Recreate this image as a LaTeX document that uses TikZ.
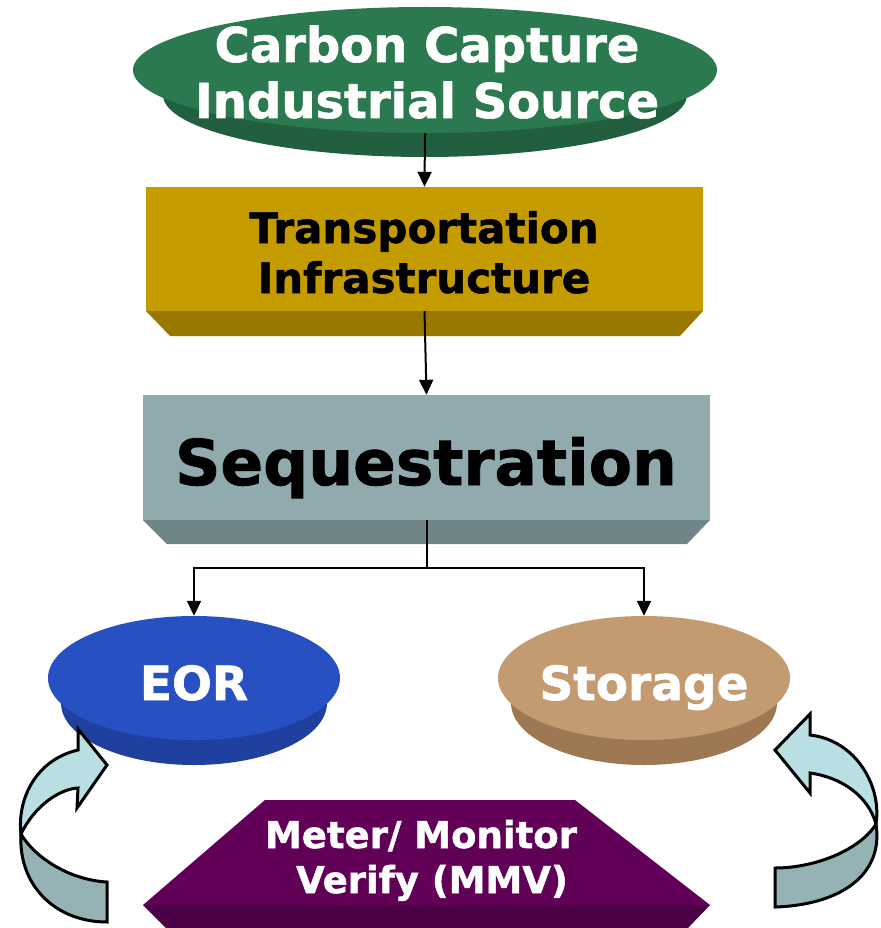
\documentclass[tikz,border=0pt]{standalone}
\usepackage{fontspec}
\setmainfont{DejaVu Sans}[BoldFeatures={FakeBold=1.3}]
\usetikzlibrary{arrows.meta,shapes.geometric,backgrounds}
\definecolor{greenface}{HTML}{2B7A4F}
\definecolor{greenside}{HTML}{225F3F}
\definecolor{goldface}{HTML}{C59C00}
\definecolor{goldside}{HTML}{997800}
\definecolor{seqface}{HTML}{90AAAD}
\definecolor{seqside}{HTML}{6F8587}
\definecolor{eorface}{HTML}{2750C2}
\definecolor{eorside}{HTML}{1F409E}
\definecolor{storface}{HTML}{C49A70}
\definecolor{storside}{HTML}{9E7853}
\definecolor{mmvface}{HTML}{620058}
\definecolor{mmvside}{HTML}{4A0044}
\definecolor{arrlight}{HTML}{B9DFE2}
\definecolor{arrdark}{HTML}{95B3B5}
\tikzset{
  boxnode/.style={rectangle, draw=none, inner sep=0},
  disknode/.style={ellipse, draw=none, inner sep=0},
  wtxt/.style={text=white, anchor=base, inner sep=0},
  btxt/.style={text=black, anchor=base, inner sep=0},
  conn/.style={line width=2pt, -{Triangle[length=15pt,width=14pt]}},
  curlarrow/.style={draw=black, line width=3pt, line join=miter}
}
\begin{document}
\begin{tikzpicture}[x=1pt,y=-1pt]
\useasboundingbox (0,0) rectangle (880,928);
% sides / bevels
\fill[greenside] (425,95) ellipse[x radius=262, y radius=62];
\fill[greenside] (133,70) -- (717,70) -- (687,95) -- (163,95) -- cycle;
\fill[goldside] (146,311) -- (703,311) -- (680,336) -- (170,336) -- cycle;
\fill[seqside] (143,520) -- (710,520) -- (687,544) -- (167,544) -- cycle;
\fill[eorside] (194,703) ellipse[x radius=133, y radius=62];
\fill[eorside] (48,678) -- (340,678) -- (327,703) -- (61,703) -- cycle;
\fill[storside] (644,703) ellipse[x radius=133, y radius=62];
\fill[storside] (498,678) -- (790,678) -- (777,703) -- (511,703) -- cycle;
\fill[mmvside] (143,905) -- (710,905) -- (688,928) -- (166,928) -- cycle;
% faces
\node[disknode, fill=greenface, minimum width=584, minimum height=126] (src) at (425,70) {};
\node[boxnode, fill=goldface, minimum width=557, minimum height=124] (trans) at (424.5,249) {};
\node[boxnode, fill=seqface, minimum width=567, minimum height=125] (seq) at (426.5,457.5) {};
\node[disknode, fill=eorface, minimum width=292, minimum height=124] (eor) at (194,678) {};
\node[disknode, fill=storface, minimum width=292, minimum height=124] (stor) at (644,678) {};
\fill[mmvface] (265,800) -- (575,800) -- (710,905) -- (143,905) -- cycle;
% texts
\node[wtxt, font=\bfseries\fontsize{48}{48}\selectfont] (src1) at (427,62) {Carbon Capture};
\node[wtxt, font=\bfseries\fontsize{48}{48}\selectfont] (src2) at (427,118) {Industrial Source};
\node[btxt, font=\bfseries\fontsize{42}{42}\selectfont] (trans1) at (424,243) {Transportation};
\node[btxt, font=\bfseries\fontsize{42}{42}\selectfont] (trans2) at (424,293) {Infrastructure};
\node[btxt, font=\bfseries\fontsize{63}{63}\selectfont] (seq1) at (426,485) {Sequestration};
\node[wtxt, font=\bfseries\fontsize{47}{47}\selectfont] (eor1) at (194,700) {EOR};
\node[wtxt, font=\bfseries\fontsize{47}{47}\selectfont] (stor1) at (644,700) {Storage};
\node[wtxt, font=\bfseries\fontsize{37}{37}\selectfont] (mmv1) at (421,848) {Meter/ Monitor};
\node[wtxt, font=\bfseries\fontsize{37}{37}\selectfont] (mmv2) at (432,893) {Verify (MMV)};
% connectors
\draw[conn] (src.south) -- (trans.north);
\draw[conn] (trans.south) -- (seq.north);
\coordinate (split) at ([yshift=-48pt]seq.south);
\draw[line width=2pt] (seq.south) -- (split);
\draw[conn] (split) -| (eor.north);
\draw[conn] (split) -| (stor.north);
% curled arrows
\draw[curlarrow, fill=arrdark] (21,834) .. controls (35,858) and (70,880) .. (107,882) -- (107,922) .. controls (55,922) and (18,885) .. (21,834) -- cycle;
\draw[curlarrow, fill=arrlight] (78,750) -- (78,729) -- (107,765) -- (77,808) -- (78,788) .. controls (60,789) and (35,805) .. (21,834) .. controls (17,800) and (35,760) .. (78,750) -- cycle;
\draw[curlarrow, fill=arrdark] (876,824) .. controls (884,875) and (840,905) .. (775,907) -- (775,868) .. controls (815,868) and (860,850) .. (876,824) -- cycle;
\draw[curlarrow, fill=arrlight] (810,735) -- (810,714) -- (775,750) -- (810,793) -- (810,773) .. controls (840,777) and (868,795) .. (876,824) .. controls (882,785) and (855,740) .. (810,735) -- cycle;
\end{tikzpicture}
\end{document}
